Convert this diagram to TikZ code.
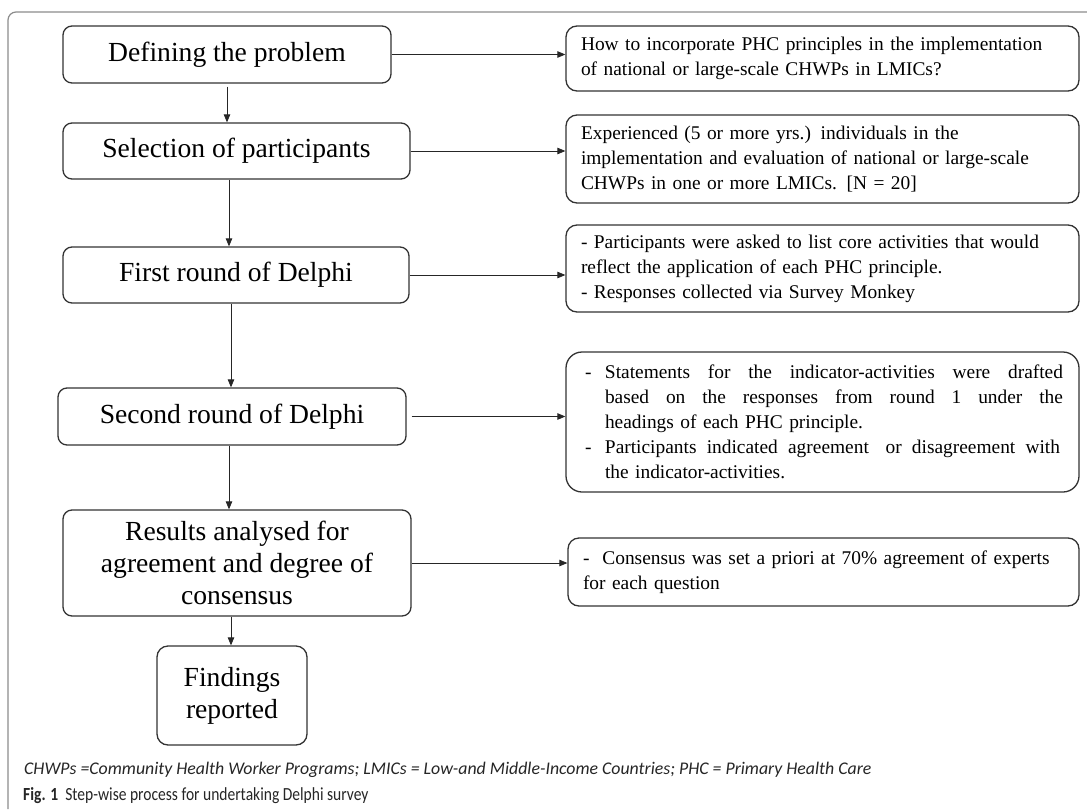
\documentclass[tikz,border=0pt]{standalone}
\usepackage{fontspec}
\setmainfont{Liberation Serif}
\newfontfamily\capfont{Carlito}
\usetikzlibrary{arrows.meta}
\begin{document}
\begin{tikzpicture}[x=1pt,y=-1pt,
  lbox/.style={draw=black!80, line width=1.3pt, rounded corners=9pt, align=center, inner sep=0pt, font=\fontsize{27.6}{32}\selectfont},
  rbox/.style={draw=black!80, line width=1.3pt, rounded corners=11pt, align=left, inner sep=0pt, font=\fontsize{19.4}{25}\selectfont, minimum width=513pt, text width=483pt},
  arr/.style={draw=black!85, line width=0.8pt, -{Triangle[length=8pt,width=6.5pt]}},
  framestyle/.style={draw=black!45, line width=1.2pt, rounded corners=8pt},
  captext/.style={anchor=west, inner sep=0pt, text=black!85}
]
\useasboundingbox (0,0) rectangle (1087,809);
\fill[white] (0,0) rectangle (1087,809);
\draw[framestyle] (8,809) -- (8,12) -- (1087,12);

% left column
\node[lbox, minimum width=328pt, minimum height=57pt] (b1) at (227,54.5) {Defining the problem};
\node[lbox, minimum width=347pt, minimum height=56pt] (b2) at (236.5,151) {Selection of participants};
\node[lbox, minimum width=346pt, minimum height=56pt] (b3) at (236,275) {First round of Delphi};
\node[lbox, minimum width=348pt, minimum height=57pt] (b4) at (232,416.5) {Second round of Delphi};
\node[lbox, minimum width=348pt, minimum height=106pt] (b5) at (237,563) {Results analysed for\\agreement and degree of\\consensus};
\node[lbox, rounded corners=11pt, minimum width=150pt, minimum height=99pt] (b6) at (232,695.5) {Findings\\reported};

% right column
\node[rbox, minimum height=65pt] (r1) at (822.5,58.5) {\mbox{How to incorporate PHC principles in the implementation}\\\mbox{of national or large-scale CHWPs in LMICs?}};
\node[rbox, minimum height=88pt] (r2) at (822.5,159) {\mbox{Experienced (5 or more yrs.) individuals in the}\\\mbox{implementation and evaluation of national or large-scale}\\\mbox{CHWPs in one or more LMICs. [N = 20]}};
\node[rbox, minimum height=87pt] (r3) at (822.5,268.5) {\mbox{- Participants were asked to list core activities that would}\\\mbox{reflect the application of each PHC principle.}\\\mbox{- Responses collected via Survey Monkey}};
\node[rbox, rounded corners=16pt, minimum height=140pt] (r4) at (822.5,422) {%
\leavevmode\hbox to 24pt{\hspace*{4pt}-\hfil}\hbox to 458pt{Statements\hfill for\hfill the\hfill indicator-activities\hfill were\hfill drafted}\\
\hspace*{24pt}\hbox to 458pt{based\hfill on\hfill the\hfill responses\hfill from\hfill round\hfill 1\hfill under\hfill the}\\
\hspace*{24pt}\mbox{headings of each PHC principle.}\\
\leavevmode\hbox to 24pt{\hspace*{4pt}-\hfil}\hbox to 455pt{Participants\hfill indicated\hfill agreement\hfill\ or\hfill disagreement\hfill with}\\
\hspace*{24pt}\mbox{the indicator-activities.}};
\node[rbox, minimum width=511pt, text width=481pt, minimum height=68pt] (r5) at (823.5,572) {\mbox{-\ \ Consensus was set a priori at 70\% agreement of experts}\\\mbox{for each question}};

% arrow x positions
\coordinate (x2) at (229,0);
\coordinate (x3) at (231,0);
\coordinate (x4) at (229,0);
\coordinate (x5) at (231,0);

% vertical arrows
\draw[arr] ([yshift=-3pt]b1.south) -- (b1.south |- b2.north);
\draw[arr] (b2.south -| x2) -- (b3.north -| x2);
\draw[arr] (b3.south -| x3) -- (b4.north -| x3);
\draw[arr] (b4.south -| x4) -- (b5.north -| x4);
\draw[arr] (b5.south -| x5) -- (b6.north -| x5);

% horizontal arrows
\draw[arr] (b1.east) -- (b1.east -| r1.west);
\draw[arr] (b2.east) -- (b2.east -| r2.west);
\draw[arr] (b3.east) -- (b3.east -| r3.west);
\draw[arr] ([xshift=5pt]b4.east) -- (b4.east -| r4.west);
\draw[arr] (b5.east) -- (b5.east -| r5.west);

% captions
\node[captext, font=\capfont\itshape\fontsize{17.8}{20}\selectfont] (cap1) at (24,770) {CHWPs =Community Health Worker Programs; LMICs = Low-and Middle-Income Countries; PHC = Primary Health Care};
\node[captext, font=\capfont\fontsize{18.5}{20}\selectfont] (cap2) at (23,796) {\scalebox{0.84}[1]{\textbf{Fig. 1}\ \ Step-wise process for undertaking Delphi survey}};
\end{tikzpicture}
\end{document}
